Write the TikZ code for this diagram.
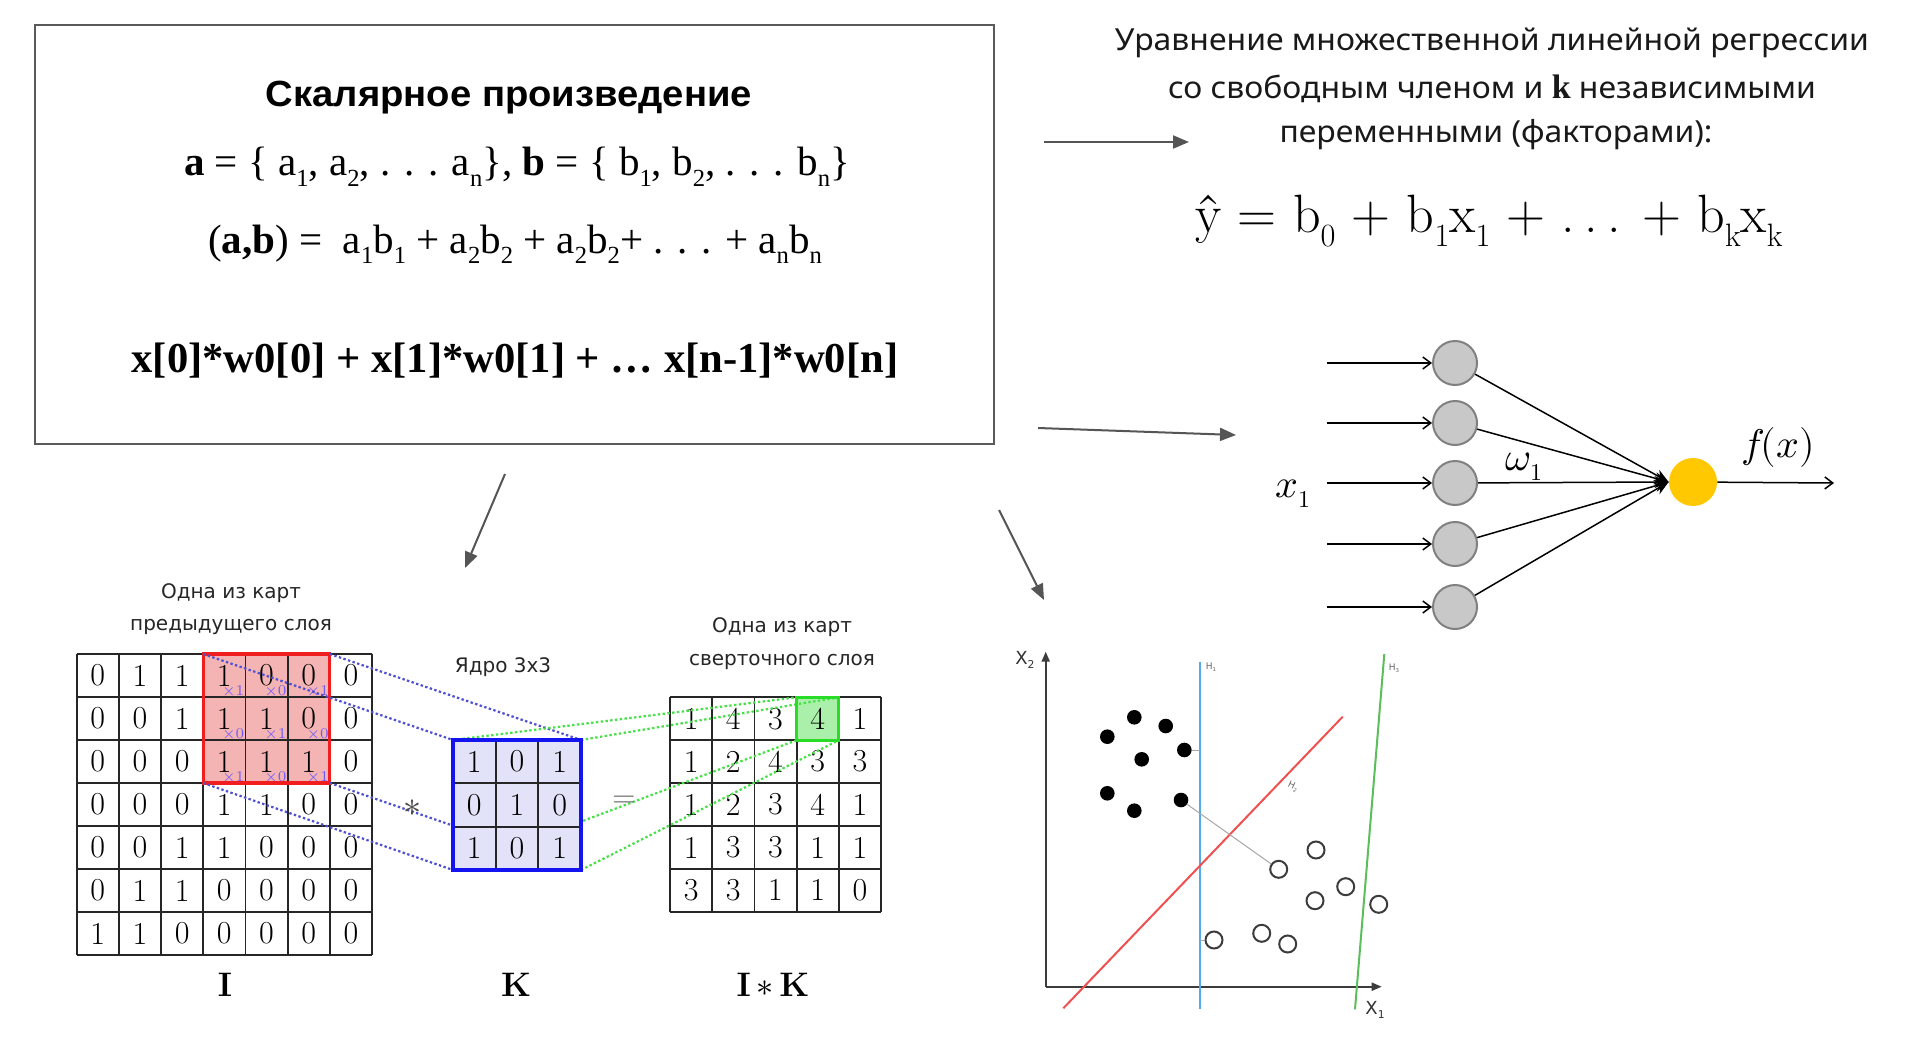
\documentclass[tikz,border=0pt]{standalone}
\usepackage[no-math]{fontspec}
\usepackage{graphicx}
\usetikzlibrary{arrows.meta}
\setmainfont{Liberation Serif}
\newfontfamily\lsans{Liberation Sans}[FakeStretch=1.05]
\newfontfamily\rsans{Noto Sans}[FakeStretch=1.05]
\newfontfamily\dsans{DejaVu Sans}
\newfontfamily\lmr{Latin Modern Roman}
\newfontfamily\lmm{Latin Modern Math}
\newcommand\lo[1]{\raisebox{-0.25em}{\scalebox{0.6}{#1}}}
\newcommand\myfs[1]{\fontsize{#1}{#1}\selectfont}
\definecolor{boxgray}{RGB}{90,90,90}
\definecolor{arrgray}{RGB}{85,85,85}
\definecolor{incirc}{RGB}{200,200,200}
\definecolor{incircb}{RGB}{128,128,128}
\definecolor{gold}{RGB}{255,200,0}
\definecolor{redfill}{RGB}{245,180,180}
\definecolor{redb}{RGB}{240,30,30}
\definecolor{kfill}{RGB}{226,226,248}
\definecolor{kblue}{RGB}{20,20,240}
\definecolor{dotblue}{RGB}{80,80,210}
\definecolor{dotgreen}{RGB}{70,225,70}
\definecolor{gfill}{RGB}{170,240,170}
\definecolor{gborder}{RGB}{40,220,40}
\definecolor{h1blue}{RGB}{80,170,235}
\definecolor{h2red}{RGB}{240,80,80}
\definecolor{h3green}{RGB}{90,190,90}
\definecolor{axisgray}{RGB}{60,60,60}
\definecolor{multcol}{RGB}{110,90,250}
\tikzset{
  bigarrow/.style={draw=arrgray, line width=1pt, -{Triangle[length=8pt,width=6.5pt]}},
  gridline/.style={draw=black!85, line width=0.9pt},
  digit/.style={font=\lmr\myfs{16}, inner sep=0pt},
  mult/.style={font=\lmr\myfs{7.5}, text=multcol, inner sep=0pt},
  lab/.style={font=\dsans\myfs{10}, text=black!85, align=center, inner sep=0pt},
  biglab/.style={font=\lmr\bfseries\myfs{17}, inner sep=0pt, anchor=base},
  incircle/.style={circle, fill=incirc, draw=incircb, line width=1pt, minimum size=22pt, inner sep=0pt},
  outcircle/.style={circle, fill=gold, minimum size=24pt, inner sep=0pt},
  inarrow/.style={draw=black, line width=0.75pt, -{Straight Barb[length=4pt,width=6pt]}},
  convline/.style={draw=black, line width=0.75pt, -{Stealth[length=7pt,width=6pt]}},
  blueline/.style={draw=dotblue, line width=1.1pt, dash pattern=on 1.2pt off 1.2pt},
  greenline/.style={draw=dotgreen, line width=1.1pt, dash pattern=on 1.2pt off 1.2pt},
  fdot/.style={circle, fill=black, minimum size=7.3pt, inner sep=0pt},
  odot/.style={circle, draw=axisgray, line width=1pt, minimum size=8.5pt, inner sep=0pt},
  axis/.style={draw=axisgray, line width=1pt, -{Triangle[length=5pt,width=4pt]}},
  hlab/.style={font=\dsans\myfs{4.5}, text=black!60, inner sep=0pt},
  xlab/.style={font=\dsans\myfs{9}, text=black!80, inner sep=0pt},
  rtxt/.style={font=\rsans\myfs{15.2}, text=black!90, inner sep=0pt, anchor=base},
  nnlab/.style={font=\lmm\myfs{20}, inner sep=0pt, anchor=base},
}
\begin{document}
\begin{tikzpicture}[x=0.5pt,y=-0.5pt]
\fill[white] (0,0) rectangle (1920,1048);
\useasboundingbox (0,0) rectangle (1920,1048);

% ---------- dot product box ----------
\node[draw=boxgray, line width=1pt, minimum width=479.5pt, minimum height=209.5pt,
      anchor=north west, inner sep=0pt] (dotbox) at (34,24) {};
\node[font=\lsans\bfseries\myfs{18.2}, anchor=base, inner sep=0pt] (title) at (509,107) {Скалярное произведение};
\node[font=\myfs{20.5}, anchor=base, inner sep=0pt] (eqa) at (517,176)
  {\textbf{a} = \{ a\lo{1}, a\lo{2}, . . . a\lo{n}\}, \textbf{b} = \{ b\lo{1}, b\lo{2}, . . . b\lo{n}\}};
\node[font=\myfs{20.5}, anchor=base, inner sep=0pt] (eqb) at (515,253)
  {(\textbf{a,b}) = \ a\lo{1}b\lo{1} + a\lo{2}b\lo{2} + a\lo{2}b\lo{2}+ . . . + a\lo{n}b\lo{n}};
\node[font=\bfseries\myfs{21.3}, anchor=base, inner sep=0pt] (eqc) at (515,372)
  {x[0]*w0[0] + x[1]*w0[1] + … x[n-1]*w0[n]};

% ---------- regression text ----------
\node[rtxt] (r1) at (1492,51) {Уравнение множественной линейной регрессии};
\node[rtxt] (r2) at (1492,99) {со свободным членом и {\rmfamily\bfseries\myfs{17}k} независимыми};
\node[rtxt] (r3) at (1496,143) {переменными (факторами):};
\node[font=\lmr\myfs{27}, anchor=base, inner sep=0pt] (reg) at (1489,233)
  {ŷ = b\lo{0} + b\lo{1}x\lo{1} + .\,.\,. + b\lo{k}x\lo{k}};

% ---------- big gray arrows ----------
\coordinate (a1s) at (1044,142); \coordinate (a1e) at (1189,142);
\coordinate (a2s) at (1038,428); \coordinate (a2e) at (1236,435);
\coordinate (a3s) at (505,474);  \coordinate (a3e) at (465,568);
\coordinate (a4s) at (999,510); \coordinate (a4e) at (1044,600);
\draw[bigarrow] (a1s) -- (a1e);
\draw[bigarrow] (a2s) -- (a2e);
\draw[bigarrow] (a3s) -- (a3e);
\draw[bigarrow] (a4s) -- (a4e);

% ---------- neuron ----------
\foreach \i/\y in {1/363,2/423,3/483,4/544,5/607} {
  \node[incircle] (n\i) at (1455,\y) {};
  \coordinate (s\i) at (1327,\y);
  \draw[inarrow] (s\i) -- (n\i);
}
\node[outcircle] (out) at (1693,482) {};
\foreach \i in {1,...,5} { \draw[convline] (n\i) -- (out.west); }
\coordinate (oend) at (1834,483);
\draw[inarrow] (out) -- (oend);
\node[nnlab] (xlab1) at (1293,497) {𝑥\lo{1}};
\node[nnlab] (wlab) at (1524,470) {𝜔\lo{1}};
\node[nnlab] (flab) at (1778,457) {𝑓(𝑥)};

% ---------- convolution: I ----------
\node[lab, anchor=base] (lI1) at (231,598) {Одна из карт};
\node[lab, anchor=base] (lI2) at (231,630) {предыдущего слоя};
\fill[redfill] (203.2,654) rectangle (329.8,783);
\foreach \i in {0,...,7} {
  \draw[gridline] ({76.6+42.2*\i},654) -- ({76.6+42.2*\i},955);
  \draw[gridline] (76.6,{654+43*\i}) -- (372,{654+43*\i});
}
\foreach \row [count=\r from 0] in {{0,1,1,1,0,0,0},{0,0,1,1,1,0,0},{0,0,0,1,1,1,0},{0,0,0,1,1,0,0},{0,0,1,1,0,0,0},{0,1,1,0,0,0,0},{1,1,0,0,0,0,0}} {
  \foreach \v [count=\c from 0] in \row {
    \node[digit] (I\r\c) at ({76.6+42.2*(\c+0.5)},{654+43*(\r+0.5)}) {\v};
  }
}
\foreach \v [count=\k from 0] in {1,0,1,0,1,0,1,0,1} {
  \pgfmathtruncatemacro\rr{int(\k/3)}
  \pgfmathtruncatemacro\cc{mod(\k,3)+3}
  \node[mult] at ({76.6+42.2*(\cc+0.5)+9},{654+43*(\rr+0.5)+15}) {×\v};
}
\draw[redb, line width=1.6pt] (203.2,654) rectangle (329.8,783);
\coordinate (rTL) at (203.2,654); \coordinate (rTR) at (329.8,654);
\coordinate (rBL) at (203.2,783); \coordinate (rBR) at (329.8,783);

% ---------- output grid ----------
\node[lab, anchor=base] (lO1) at (782,632) {Одна из карт};
\node[lab, anchor=base] (lO2) at (782,665) {сверточного слоя};
\fill[gfill] (796.6,697.3) rectangle (838.8,740.2);
\foreach \i in {0,...,5} {
  \draw[gridline] ({670+42.2*\i},697.3) -- ({670+42.2*\i},911.8);
  \draw[gridline] (670,{697.3+42.9*\i}) -- (881,{697.3+42.9*\i});
}
\foreach \row [count=\r from 0] in {{1,4,3,4,1},{1,2,4,3,3},{1,2,3,4,1},{1,3,3,1,1},{3,3,1,1,0}} {
  \foreach \v [count=\c from 0] in \row {
    \node[digit] (O\r\c) at ({670+42.2*(\c+0.5)},{697.3+42.9*(\r+0.5)}) {\v};
  }
}
\coordinate (gTL) at (796.6,697.3); \coordinate (gTR) at (838.8,697.3);
\coordinate (gBL) at (796.6,740.2); \coordinate (gBR) at (838.8,740.2);

% ---------- kernel ----------
\coordinate (kTL) at (453,740); \coordinate (kTR) at (581,740);
\coordinate (kBL) at (453,870); \coordinate (kBR) at (581,870);
\draw[blueline] (rTL) -- (kTL);
\draw[blueline] (rTR) -- (kTR);
\draw[blueline] (rBL) -- (kBL);
\draw[blueline] (rBR) -- (kBR);
\draw[greenline] (kTL) -- (gTL);
\draw[greenline] (kTR) -- (gTR);
\draw[greenline] (kBL) -- (gBL);
\draw[greenline] (kBR) -- (gBR);
\node[lab, anchor=base] (lK) at (503,672) {Ядро 3х3};
\fill[kfill] (kTL) rectangle (kBR);
\foreach \i in {1,2} {
  \draw[gridline] ({453+42.67*\i},740) -- ({453+42.67*\i},870);
  \draw[gridline] (453,{740+43.33*\i}) -- (581,{740+43.33*\i});
}
\foreach \row [count=\r from 0] in {{1,0,1},{0,1,0},{1,0,1}} {
  \foreach \v [count=\c from 0] in \row {
    \node[digit] (K\r\c) at ({453+42.67*(\c+0.5)},{740+43.33*(\r+0.5)}) {\v};
  }
}
\draw[kblue, line width=1.6pt] (kTL) rectangle (kBR);
\draw[gborder, line width=1.6pt] (gTL) rectangle (gBR);
\node[font=\lmm\myfs{18}, text=black!70, inner sep=0pt] (star) at (412,808) {∗};
\node[font=\lmr\myfs{16}, text=black!60, inner sep=0pt] (eqs) at (624,802) {=};
\node[biglab] (bI) at (225,996) {I};
\node[biglab] (bK) at (516,996) {K};
\node[biglab] (bIK) at (773,996) {I\,{\lmm\mdseries ∗}\,K};

% ---------- SVM plot ----------
\coordinate (org) at (1045.7,986.7);
\coordinate (ytip) at (1045.7,651.7);
\coordinate (xtip) at (1381.7,986.7);
\draw[axis] (org) -- (ytip);
\draw[axis] (org) -- (xtip);
\node[xlab] (X2) at (1025,660) {X\lo{2}};
\node[xlab] (X1) at (1375,1010) {X\lo{1}};
\coordinate (h1a) at (1200,661.7); \coordinate (h1b) at (1200,1009);
\coordinate (h2a) at (1063.3,1008.3); \coordinate (h2b) at (1342.7,716.7);
\coordinate (h3a) at (1355,1009.3); \coordinate (h3b) at (1384.3,654);
\draw[h1blue, line width=1pt] (h1a) -- (h1b);
\draw[h2red, line width=1pt] (h2a) -- (h2b);
\draw[h3green, line width=1pt] (h3a) -- (h3b);
\node[hlab] (H1) at (1211,667) {H\lo{1}};
\node[hlab, rotate=-25] (H2) at (1293,787) {H\lo{2}};
\node[hlab] (H3) at (1394,668) {H\lo{3}};
\foreach \i/\x/\y in {1/1134.3/717.3, 2/1165.7/726, 3/1107.3/736.7, 4/1184.3/750, 5/1141.7/759.3, 6/1107.3/793.3, 7/1181/800, 8/1134.3/810.7} {
  \node[fdot] (f\i) at (\x,\y) {};
}
\foreach \i/\x/\y in {1/1316/850, 2/1278.7/869.3, 3/1345.7/886.7, 4/1315/900.7, 5/1378.7/904.3, 6/1214/940, 7/1261.7/933.3, 8/1287.7/944} {
  \node[odot] (o\i) at (\x,\y) {};
}
\coordinate (m1) at (1200,750);
\coordinate (m2) at (1200,940);
\draw[black!35, line width=0.5pt] (f4) -- (m1);
\draw[black!35, line width=0.5pt] (f7) -- (o2);
\draw[black!35, line width=0.5pt] (m2) -- (o6);
\end{tikzpicture}
\end{document}
